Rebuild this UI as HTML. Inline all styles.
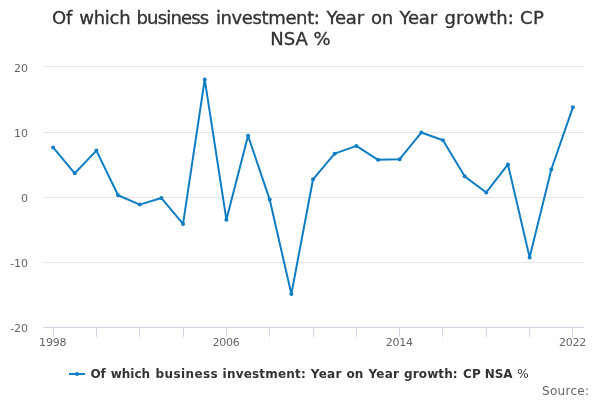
<!DOCTYPE html>
<html><head><meta charset="utf-8"><title>Chart</title>
<style>
html,body{margin:0;padding:0;background:#fff;}
body{width:600px;height:400px;overflow:hidden;}
svg{display:block;font-family:"DejaVu Sans","Liberation Sans",sans-serif;}
</style></head><body>
<svg width="600" height="400" viewBox="0 0 600 400">
<rect x="0" y="0" width="600" height="400" fill="#ffffff"/>
<g fill="none" stroke="#e6e6e6" stroke-width="1"><path d="M 43 66.5 L 584 66.5"/><path d="M 43 132.5 L 584 132.5"/><path d="M 43 197.5 L 584 197.5"/><path d="M 43 262.5 L 584 262.5"/></g>
<path d="M 43 327.5 L 584 327.5" fill="none" stroke="#ccd6eb" stroke-width="1"/>
<g fill="none" stroke="#ccd6eb" stroke-width="1"><path d="M 53.5 327 L 53.5 337"/><path d="M 96.5 327 L 96.5 337"/><path d="M 139.5 327 L 139.5 337"/><path d="M 183.5 327 L 183.5 337"/><path d="M 226.5 327 L 226.5 337"/><path d="M 269.5 327 L 269.5 337"/><path d="M 313.5 327 L 313.5 337"/><path d="M 356.5 327 L 356.5 337"/><path d="M 399.5 327 L 399.5 337"/><path d="M 442.5 327 L 442.5 337"/><path d="M 486.5 327 L 486.5 337"/><path d="M 529.5 327 L 529.5 337"/><path d="M 572.5 327 L 572.5 337"/></g>
<path d="M 53.10 147.39 L 74.76 173.29 L 96.42 150.59 L 118.08 195.28 L 139.74 204.61 L 161.40 198.02 L 183.06 223.93 L 204.72 79.40 L 226.38 219.69 L 248.04 135.71 L 269.70 199.59 L 291.36 294.00 L 313.02 179.30 L 334.68 153.65 L 356.34 145.89 L 378.00 159.79 L 399.66 159.20 L 421.32 132.51 L 442.98 140.21 L 464.64 176.36 L 486.30 192.48 L 507.96 164.42 L 529.62 257.40 L 551.28 169.51 L 572.94 107.13" fill="none" stroke="#0f7dc2" stroke-width="2" stroke-linejoin="round" stroke-linecap="round"/>
<g fill="#0f7dc2"><circle cx="53.10" cy="147.39" r="2"/><circle cx="74.76" cy="173.29" r="2"/><circle cx="96.42" cy="150.59" r="2"/><circle cx="118.08" cy="195.28" r="2"/><circle cx="139.74" cy="204.61" r="2"/><circle cx="161.40" cy="198.02" r="2"/><circle cx="183.06" cy="223.93" r="2"/><circle cx="204.72" cy="79.40" r="2"/><circle cx="226.38" cy="219.69" r="2"/><circle cx="248.04" cy="135.71" r="2"/><circle cx="269.70" cy="199.59" r="2"/><circle cx="291.36" cy="294.00" r="2"/><circle cx="313.02" cy="179.30" r="2"/><circle cx="334.68" cy="153.65" r="2"/><circle cx="356.34" cy="145.89" r="2"/><circle cx="378.00" cy="159.79" r="2"/><circle cx="399.66" cy="159.20" r="2"/><circle cx="421.32" cy="132.51" r="2"/><circle cx="442.98" cy="140.21" r="2"/><circle cx="464.64" cy="176.36" r="2"/><circle cx="486.30" cy="192.48" r="2"/><circle cx="507.96" cy="164.42" r="2"/><circle cx="529.62" cy="257.40" r="2"/><circle cx="551.28" cy="169.51" r="2"/><circle cx="572.94" cy="107.13" r="2"/></g>
<text y="24" font-size="18px" fill="#333333" stroke="#333333" stroke-width="0.35"><tspan x="52" letter-spacing="-0.1">Of</tspan> <tspan x="79.25" letter-spacing="-0.28">which</tspan> <tspan x="136.5" letter-spacing="-0.82">business</tspan> <tspan x="215.9" letter-spacing="-0.37">investment:</tspan> <tspan x="326.4" letter-spacing="-0.1">Year</tspan> <tspan x="371" letter-spacing="-0.2">on</tspan> <tspan x="399.4" letter-spacing="-0.1">Year</tspan> <tspan x="444.6" letter-spacing="0.1">growth:</tspan> <tspan x="520" letter-spacing="0.4">CP</tspan></text>
<text x="270.3" y="45" font-size="18px" fill="#333333" stroke="#333333" stroke-width="0.35">NSA %</text>
<g font-size="11px" fill="#666666" text-anchor="end" letter-spacing="-0.2"><text x="27.7" y="72">20</text><text x="27.7" y="137">10</text><text x="27.7" y="202">0</text><text x="27.7" y="267">-10</text><text x="27.7" y="332">-20</text></g>
<g font-size="11px" fill="#666666" text-anchor="middle" letter-spacing="-0.2"><text x="52.7" y="346">1998</text><text x="226.0" y="346">2006</text><text x="399.3" y="346">2014</text><text x="572.5" y="346">2022</text></g>
<path d="M 69 374 L 85 374" fill="none" stroke="#0f7dc2" stroke-width="2"/>
<circle cx="77" cy="374" r="2" fill="#0f7dc2"/>
<text y="378" font-size="12px" font-weight="bold" fill="#333333"><tspan x="90.4">Of</tspan> <tspan x="110.7">which</tspan> <tspan x="155.6" letter-spacing="0.4">business</tspan> <tspan x="222.6" letter-spacing="0.2">investment:</tspan> <tspan x="310.8" letter-spacing="0.3">Year</tspan> <tspan x="346.5">on</tspan> <tspan x="368.4" letter-spacing="0.3">Year</tspan> <tspan x="404.1" letter-spacing="0.1">growth:</tspan> <tspan x="463.1">CP</tspan> <tspan x="484.8" letter-spacing="-0.1">NSA</tspan> <tspan x="517.2" font-weight="normal">%</tspan></text>
<text x="589.3" y="394.5" font-size="12px" text-anchor="end" fill="#666666" letter-spacing="0.28">Source:</text>
</svg>
</body></html>
